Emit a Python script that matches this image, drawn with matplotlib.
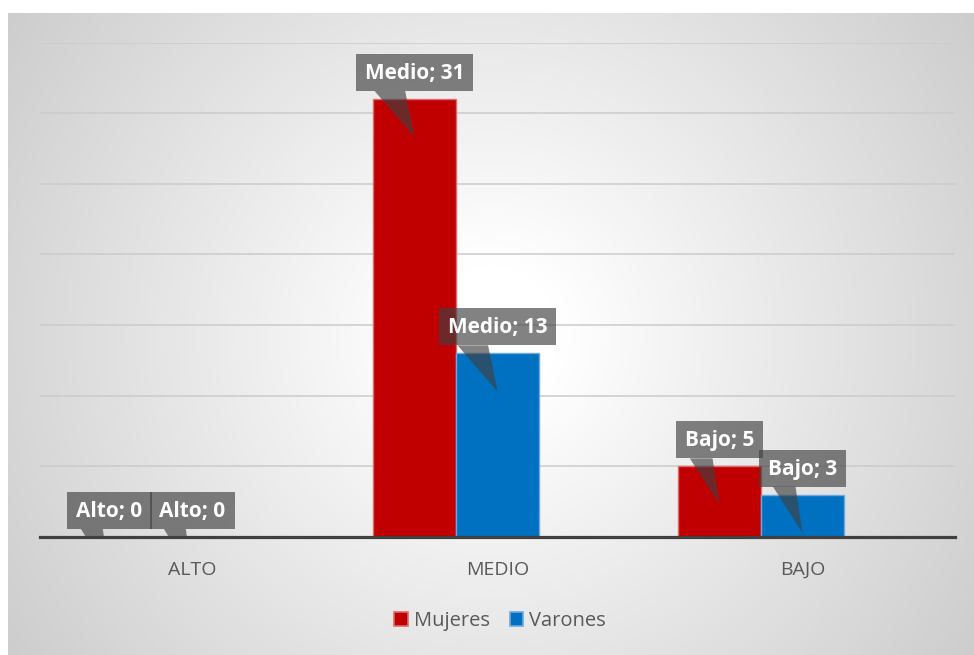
import matplotlib
matplotlib.use('Agg')
import matplotlib.pyplot as plt
import numpy as np
from matplotlib.patches import Polygon, Patch, Rectangle

# ---------------- data ----------------
categories = ['ALTO', 'MEDIO', 'BAJO']
label_names = ['Alto', 'Medio', 'Bajo']
series_names = ['Mujeres', 'Varones']
mujeres = [0, 31, 5]
varones = [0, 13, 3]
y_max = 35
y_step = 5

# ---------------- style ----------------
plt.rcParams['font.family'] = ['Open Sans', 'DejaVu Sans']
colors = ['#C00000', '#0070C0']
edge_colors = ['#E06A6A', '#6FA8DC']
label_fc = '#404040'
label_alpha = 0.65

W, H = 974, 655
fig = plt.figure(figsize=(W / 100, H / 100), dpi=100)
fig.patch.set_facecolor('white')

# radial gradient background of the chart area
bg = fig.add_axes([8 / W, 0, 1 - 8 / W, (H - 13) / H])
bg.set_axis_off()
nx, ny = 480, 320
xs = np.linspace(-1, 1, nx) * 483
ys = np.linspace(-1, 1, ny) * 321
X, Y = np.meshgrid(xs, ys)
R = np.sqrt(X ** 2 + Y ** 2) / 580
t = np.clip((R - 0.12) / 0.88, 0, 1)
val = (255 - 50 * t) / 255
img = np.dstack([val, val, val])
bg.imshow(img, extent=[0, 1, 0, 1], aspect='auto', interpolation='bilinear', zorder=0)
bg.set_xlim(0, 1)
bg.set_ylim(0, 1)

# main axes
ax = fig.add_axes([40 / W, (H - 537) / H, 915 / W, (537 - 42.5) / H])
ax.patch.set_alpha(0)
x = np.arange(len(categories))
n_slots = 3          # the chart reserves three bar slots per category
bw = 0.272
series = [mujeres, varones]
offsets = [(i - (n_slots - 1) / 2) * bw for i in range(len(series))]
for i, vals in enumerate(series):
    ax.bar(x + offsets[i], vals, bw, color=colors[i], edgecolor=edge_colors[i],
           lw=1.0, zorder=3, label=series_names[i])

ax.set_xlim(-0.5, len(categories) - 0.5)
ax.set_ylim(0, y_max)
ax.set_yticks(np.arange(0, y_max + 0.1, y_step))
ax.yaxis.grid(True, color='#CBCBCB', lw=1.1, zorder=1)
ax.set_axisbelow(True)
ax.tick_params(axis='y', length=0, labelleft=False)
ax.set_xticks(x)
ax.set_xticklabels(categories)
ax.tick_params(axis='x', length=0, pad=17, labelsize=14, labelcolor='#595959')
for s in ['left', 'right', 'top']:
    ax.spines[s].set_visible(False)
ax.spines['bottom'].set_color('#404040')
ax.spines['bottom'].set_linewidth(2.3)
ax.spines['bottom'].set_zorder(4)

# callout labels
fs = 15
gap_px = 8       # box bottom above bar top
box_h = 37       # box height in px
base_px = 12     # text baseline above box bottom
pad_h = 9        # horizontal padding in px
anns = []
for i, vals in enumerate(series):
    for j, v in enumerate(vals):
        xc = x[j] + offsets[i]
        a = ax.annotate(f"{label_names[j]}; {v}", xy=(xc, v),
                        xytext=(0, gap_px + base_px), textcoords='offset pixels',
                        ha='center', va='baseline', color='white', fontsize=fs,
                        fontweight='bold', zorder=7)
        anns.append((a, xc, v))

fig.canvas.draw()
renderer = fig.canvas.get_renderer()
inv = ax.transData.inverted()
for a, xc, v in anns:
    tb = a.get_window_extent(renderer)
    p = ax.transData.transform((xc, v))
    bx0 = tb.x0 - pad_h
    bw_px = tb.width + 2 * pad_h
    by0 = p[1] + gap_px
    (dx0, dy0) = inv.transform((bx0, by0))
    (dx1, dy1) = inv.transform((bx0 + bw_px, by0 + box_h))
    ax.add_patch(Rectangle((dx0, dy0), dx1 - dx0, dy1 - dy0, fc=label_fc, ec='none',
                           alpha=label_alpha, zorder=6, clip_on=False))
    tip = ax.transData.transform((xc, v - 2.7))
    pts_disp = np.array([[bx0 + 0.16 * bw_px, by0], [bx0 + 0.42 * bw_px, by0], tip])
    pts = inv.transform(pts_disp)
    ax.add_patch(Polygon(pts, closed=True, fc=label_fc, ec='none',
                         alpha=label_alpha, zorder=6, clip_on=True))

handles = [Patch(fc=colors[i], ec=edge_colors[i], lw=1.2, label=series_names[i])
           for i in range(len(series_names))]
fig.legend(handles=handles, loc='center', bbox_to_anchor=(500 / W, (H - 621) / H),
           ncol=2, frameon=False, fontsize=14.5, handlelength=0.65, handleheight=0.65,
           handletextpad=0.3, columnspacing=1.0, labelcolor='#595959')

fig.savefig('out.png', dpi=100)
